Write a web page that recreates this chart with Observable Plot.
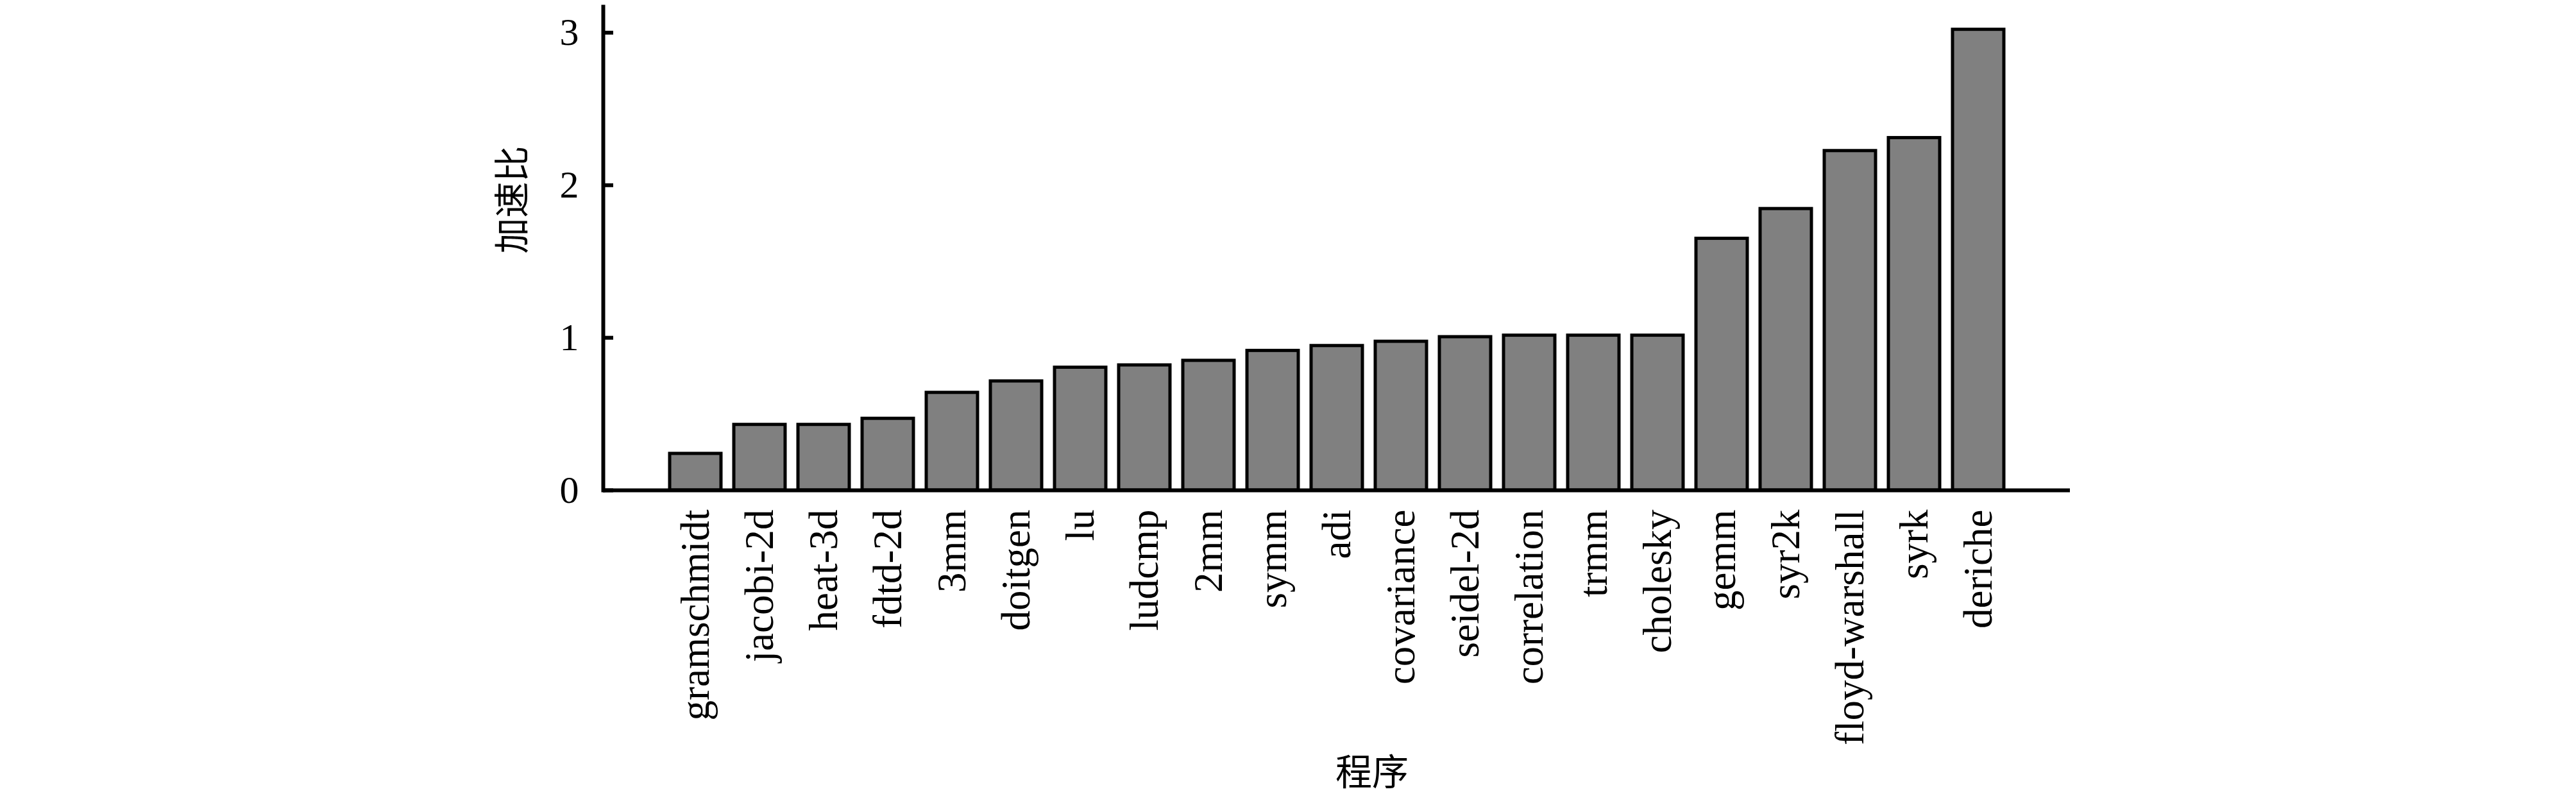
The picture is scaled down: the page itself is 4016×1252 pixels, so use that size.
<!DOCTYPE html>
<html>
<head>
<meta charset="utf-8">
<script src="https://cdn.jsdelivr.net/npm/d3@7"></script>
<script src="https://cdn.jsdelivr.net/npm/@observablehq/plot@0.6"></script>
<style>
html,body{margin:0;padding:0;background:#fff;}
svg{display:block;}
</style>
</head>
<body>
<div id="chart"></div>
<script>
const categories = ["gramschmidt","jacobi-2d","heat-3d","fdtd-2d","3mm","doitgen","lu","ludcmp","2mm","symm","adi","covariance","seidel-2d","correlation","trmm","cholesky","gemm","syr2k","floyd-warshall","syrk","deriche"];
const speedups = [0.24,0.43,0.43,0.47,0.64,0.715,0.805,0.82,0.85,0.915,0.947,0.975,1.005,1.015,1.015,1.015,1.65,1.845,2.225,2.31,3.02];
const yTicks = [0, 1, 2, 3];
const yLabel = "加速比";
const xLabel = "程序";

const data = categories.map((c, i) => ({program: c, speedup: speedups[i]}));

const W = 4016, H = 1252;
const mL = 940, mR = 789, mT = 10, mB = 488;
const frameW = W - mL - mR;

const chart = Plot.plot({
  width: W,
  height: H,
  marginLeft: mL,
  marginRight: mR,
  marginTop: mT,
  marginBottom: mB,
  style: {background: "#fff", fontFamily: "'Liberation Serif', 'DejaVu Serif', serif", fontSize: "62px", color: "#000"},
  x: {domain: categories, paddingInner: 0.2, paddingOuter: 1.02, label: null},
  y: {domain: [0, 3.17], label: null},
  marks: [
    Plot.barY(data, {x: "program", y: "speedup", fill: "#808080", stroke: "#000", strokeWidth: 5}),
    Plot.ruleY([0], {stroke: "#000", strokeWidth: 6}),
    Plot.frame({anchor: "left", stroke: "#000", strokeWidth: 6}),
    Plot.tickY(yTicks, {y: d => d, stroke: "#000", strokeWidth: 6, insetRight: frameW - 16}),
    Plot.axisY({ticks: yTicks, tickSize: 0, tickPadding: 38, tickFormat: d => String(d), label: null, fontSize: 60}),
    Plot.axisX({tickSize: 0, tickPadding: 30, tickRotate: -90, label: null, fontSize: 63}),
    Plot.text([yLabel], {frameAnchor: "left", dx: -140, dy: 8, rotate: -90, lineAnchor: "middle", fontSize: 56, fontFamily: "'Noto Sans CJK SC', sans-serif", fill: "#000"}),
    Plot.text([xLabel], {frameAnchor: "bottom", dx: 55, dy: 441, lineAnchor: "middle", fontSize: 57, fontFamily: "'Noto Sans CJK SC', sans-serif", fill: "#000"})
  ]
});
document.getElementById("chart").appendChild(chart);
</script>
</body>
</html>
